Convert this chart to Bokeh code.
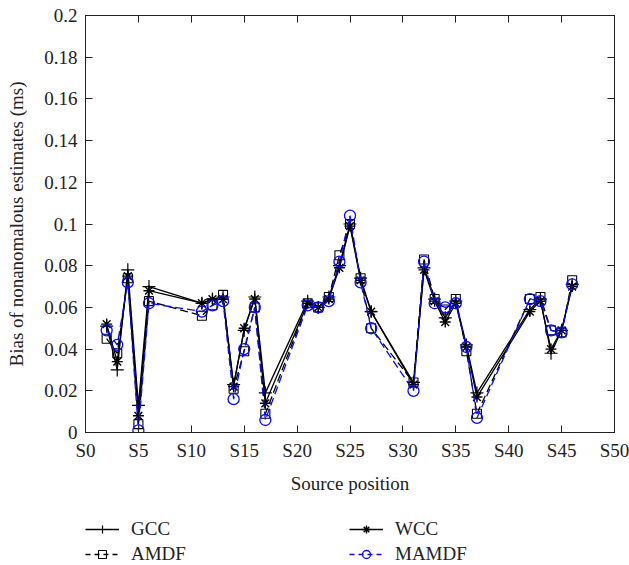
from bokeh.plotting import figure
from bokeh.layouts import column
from bokeh.models import (LinearAxis, FixedTicker, CustomJSTickFormatter, Legend, LegendItem, Range1d)
from bokeh.embed import file_html
from bokeh.resources import INLINE

positions = [2, 3, 4, 5, 6, 11, 12, 13, 14, 15, 16, 17, 21, 22, 23, 24, 25, 26, 27,
             31, 32, 33, 34, 35, 36, 37, 42, 43, 44, 45, 46]
gcc = [0.051, 0.030, 0.078, 0.013, 0.070, 0.062, 0.064, 0.065, 0.023, 0.049, 0.065, 0.019,
       0.063, 0.060, 0.065, 0.080, 0.100, 0.074, 0.058, 0.024, 0.079, 0.064, 0.055, 0.063,
       0.042, 0.019, 0.059, 0.064, 0.038, 0.049, 0.071]
wcc = [0.052, 0.034, 0.075, 0.008, 0.068, 0.062, 0.064, 0.064, 0.022, 0.050, 0.064, 0.014,
       0.062, 0.060, 0.064, 0.079, 0.099, 0.073, 0.058, 0.023, 0.078, 0.063, 0.053, 0.062,
       0.041, 0.017, 0.058, 0.063, 0.040, 0.049, 0.070]
amdf = [0.045, 0.038, 0.074, 0.004, 0.063, 0.056, 0.061, 0.066, 0.021, 0.039, 0.060, 0.009,
        0.062, 0.060, 0.065, 0.085, 0.100, 0.074, 0.050, 0.024, 0.083, 0.064, 0.059, 0.064,
        0.039, 0.009, 0.064, 0.065, 0.049, 0.048, 0.073]
mamdf = [0.049, 0.042, 0.072, 0.001, 0.062, 0.058, 0.061, 0.063, 0.016, 0.040, 0.060, 0.006,
         0.061, 0.060, 0.063, 0.082, 0.104, 0.072, 0.050, 0.020, 0.082, 0.062, 0.060, 0.062,
         0.041, 0.007, 0.064, 0.063, 0.049, 0.048, 0.071]
x_ticks = [0, 5, 10, 15, 20, 25, 30, 35, 40, 45, 50]
y_ticks = [0, 0.02, 0.04, 0.06, 0.08, 0.1, 0.12, 0.14, 0.16, 0.18, 0.2]

FONT = "Liberation Serif"
FS = "19px"
TXT = "#222222"

p = figure(width=629, height=505, output_backend="svg", toolbar_location=None,
           x_range=Range1d(0, 50), y_range=Range1d(0, 0.2),
           min_border_left=85, min_border_right=15, min_border_top=15, min_border_bottom=73,
           x_axis_label="Source position",
           y_axis_label="Bias of nonanomalous estimates (ms)")
p.grid.visible = False
p.outline_line_color = "#222222"
p.outline_line_width = 1
p.background_fill_color = "white"
p.border_fill_color = "white"

xfmt = CustomJSTickFormatter(code="return 'S' + Math.round(tick);")
yfmt = CustomJSTickFormatter(code="return (Math.round(tick*100)/100).toString();")
blank = CustomJSTickFormatter(code="return '';")

for ax in p.xaxis:
    ax.ticker = FixedTicker(ticks=x_ticks)
    ax.formatter = xfmt
for ax in p.yaxis:
    ax.ticker = FixedTicker(ticks=y_ticks)
    ax.formatter = yfmt

for ax in list(p.xaxis) + list(p.yaxis):
    ax.major_tick_in = 7
    ax.major_tick_out = 0
    ax.minor_tick_line_color = None
    ax.axis_line_color = "#222222"
    ax.major_tick_line_color = "#222222"
    ax.major_label_text_font = FONT
    ax.major_label_text_font_size = FS
    ax.major_label_text_color = TXT
    ax.axis_label_text_font = FONT
    ax.axis_label_text_font_size = FS
    ax.axis_label_text_font_style = "normal"
    ax.axis_label_text_color = TXT
p.xaxis.major_label_standoff = 7
p.xaxis.axis_label_standoff = 9
p.yaxis.major_label_standoff = 8
p.yaxis.axis_label_standoff = 14

# mirrored tick axes (right and top)
r_ax = LinearAxis(ticker=FixedTicker(ticks=y_ticks), formatter=blank,
                  major_tick_in=7, major_tick_out=0, minor_tick_line_color=None,
                  axis_line_color="#222222", major_tick_line_color="#222222",
                  major_label_standoff=0)
t_ax = LinearAxis(ticker=FixedTicker(ticks=x_ticks), formatter=blank,
                  major_tick_in=7, major_tick_out=0, minor_tick_line_color=None,
                  axis_line_color="#222222", major_tick_line_color="#222222",
                  major_label_standoff=0)
p.add_layout(r_ax, "right")
p.add_layout(t_ax, "above")

BLK = "#000000"
BLUE = "#0a0aff"
lw = 1.3

styles = {
    "GCC": dict(color=BLK, dash="solid", marker="cross", size=13, mlw=1.2),
    "AMDF": dict(color=BLK, dash="8 4", marker="square", size=9, mlw=1.1),
    "WCC": dict(color=BLK, dash="solid", marker="asterisk", size=11, mlw=1.4),
    "MAMDF": dict(color=BLUE, dash="8 4", marker="circle", size=11, mlw=1.3),
}
data = {"GCC": gcc, "AMDF": amdf, "WCC": wcc, "MAMDF": mamdf}

for name in ["GCC", "AMDF", "WCC", "MAMDF"]:
    s = styles[name]
    p.line(positions, data[name], line_color=s["color"], line_width=lw, line_dash=s["dash"])
    p.scatter(positions, data[name], marker=s["marker"], size=s["size"],
              line_color=s["color"], fill_color=None, line_width=s["mlw"])

# legend strip below the chart (its series lie outside its visible range)
q = figure(width=629, height=60, output_backend="svg", toolbar_location=None,
           x_range=Range1d(0, 50), y_range=Range1d(10, 11), min_border=0)
q.axis.visible = False
q.grid.visible = False
q.outline_line_color = None
q.background_fill_color = "white"
q.border_fill_color = "white"

items = {}
for name in ["GCC", "AMDF", "WCC", "MAMDF"]:
    s = styles[name]
    rl = q.line(positions, data[name], line_color=s["color"], line_width=lw, line_dash="5 4"
                if s["dash"] != "solid" else "solid")
    rm = q.scatter(positions, data[name], marker=s["marker"], size=s["size"] - 1,
                   line_color=s["color"], fill_color=None, line_width=s["mlw"])
    items[name] = LegendItem(label=name, renderers=[rl, rm])

def mk_leg(names, x):
    return Legend(items=[items[n] for n in names], location=(x, 0),
                  orientation="vertical",
                  label_text_font=FONT, label_text_font_size=FS, label_text_color=TXT,
                  glyph_width=34, glyph_height=20, label_height=20,
                  label_standoff=12, spacing=3, padding=0, margin=0,
                  border_line_color=None, background_fill_alpha=0)

q.add_layout(mk_leg(["GCC", "AMDF"], 0), "center")
q.add_layout(mk_leg(["WCC", "MAMDF"], 264), "center")

layout = column(p, q, spacing=0)
open("out.html", "w").write(file_html(layout, INLINE))
